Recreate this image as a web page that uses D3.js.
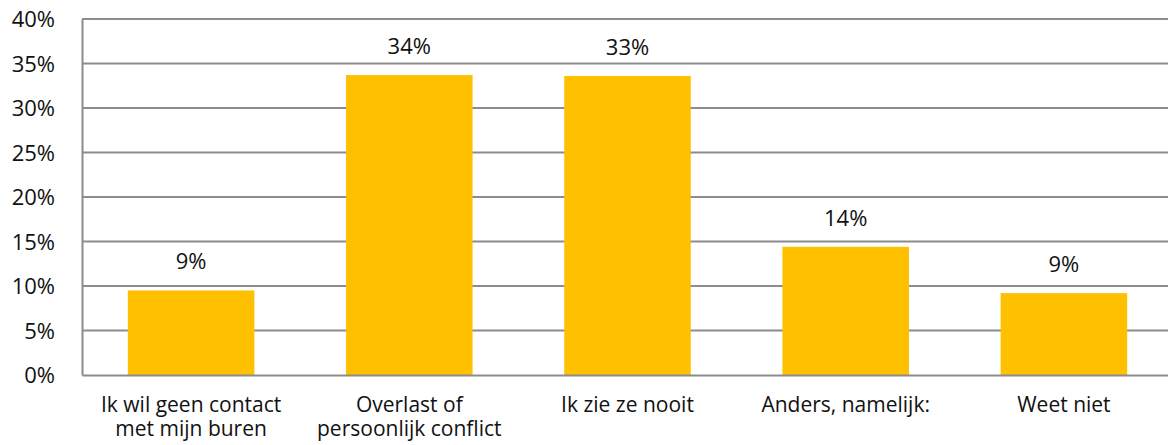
<!DOCTYPE html>
<html>
<head>
<meta charset="utf-8">
<script src="https://cdn.jsdelivr.net/npm/d3@7"></script>
<style>
    body { margin: 0; background: #fff; overflow: hidden; }
    svg text { font-family: "Open Sans", sans-serif; font-size: 21px; fill: #111; }
    svg text.num { font-size: 22px; }
    .grid line { stroke: #8c8c8c; stroke-width: 2; }
</style>
</head>
<body>
<div id="chart"></div>
<script>
// Data
var categories = [
    ['Ik wil geen contact', 'met mijn buren'],
    ['Overlast of', 'persoonlijk conflict'],
    ['Ik zie ze nooit'],
    ['Anders, namelijk:'],
    ['Weet niet']
];
var values = [9.5, 33.7, 33.6, 14.4, 9.2];
var valueLabels = ['9%', '34%', '33%', '14%', '9%'];
var yTicks = [0, 5, 10, 15, 20, 25, 30, 35, 40];

var margin = {top: 19, bottom: 70, left: 82, right: -5};
var width = 1168 - margin.left - margin.right;
var height = 445 - margin.top - margin.bottom;

var svg = d3.select('#chart').append('svg')
    .attr('width', 1168)
    .attr('height', 445)
    .style('display', 'block');

var g = svg.append('g')
    .attr('transform', `translate(${margin.left},${margin.top})`);

// Scales setup
var xScale = d3.scaleBand()
    .domain(d3.range(categories.length))
    .range([0, width])
    .paddingInner(0.42)
    .paddingOuter(0.21);
var yScale = d3.scaleLinear().domain([0, 40]).range([height, 0]);

// Gridlines
g.append('g').attr('class', 'grid')
    .selectAll('line').data(yTicks.slice(1)).enter().append('line')
    .attr('x1', 0).attr('x2', width + 10)
    .attr('y1', (d) => yScale(d)).attr('y2', (d) => yScale(d));

// Bars
g.selectAll('rect.bar').data(values).enter().append('rect')
    .attr('class', 'bar')
    .attr('x', (d, i) => xScale(i))
    .attr('width', xScale.bandwidth())
    .attr('y', (d) => yScale(d))
    .attr('height', (d) => height - yScale(d))
    .attr('fill', '#ffc000');

// Value labels
g.selectAll('text.val').data(values).enter().append('text')
    .attr('class', 'val num')
    .attr('x', (d, i) => xScale(i) + xScale.bandwidth() / 2)
    .attr('y', (d) => yScale(d) - 21)
    .attr('text-anchor', 'middle')
    .text((d, i) => valueLabels[i]);

// Y axis
var yAxis = d3.axisLeft(yScale).tickValues(yTicks).tickSize(0).tickPadding(27)
    .tickFormat((d) => d + '%');
var gy = g.append('g').attr('class', 'axis').call(yAxis);
gy.select('.domain').attr('stroke', '#8c8c8c').attr('stroke-width', 2);
gy.selectAll('text').attr('class', 'num').attr('dy', '0.36em');

// X axis, category names on one or two lines
var xAxis = d3.axisBottom(xScale).tickSize(0).tickFormat('');
var gx = g.append('g').attr('class', 'axis')
    .attr('transform', `translate(0,${height})`).call(xAxis);
gx.select('.domain').attr('stroke', '#8c8c8c').attr('stroke-width', 2);
gx.selectAll('.tick').each(function(d) {
    var t = d3.select(this).append('text')
        .attr('text-anchor', 'middle')
        .attr('y', 37);
    categories[d].forEach((line, k) => {
        t.append('tspan').attr('x', 0).attr('dy', k === 0 ? 0 : 24).text(line);
    });
});
</script>
</body>
</html>
